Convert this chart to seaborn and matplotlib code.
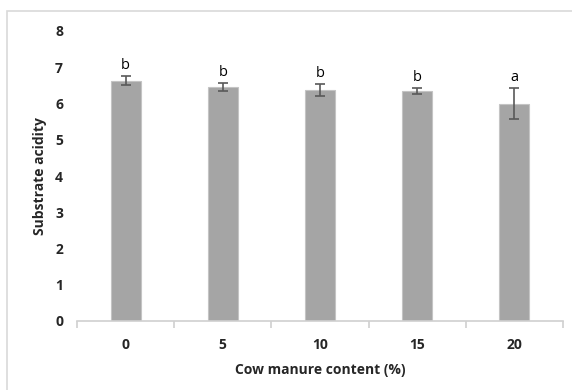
import matplotlib.pyplot as plt
import matplotlib.patches as patches
import seaborn as sns
import pandas as pd

# data
manure = ['0', '5', '10', '15', '20']
acidity = [6.63, 6.45, 6.38, 6.34, 5.99]
err = [0.12, 0.11, 0.17, 0.08, 0.43]
letters = ['b', 'b', 'b', 'b', 'a']

sns.set_theme(style='white')
plt.rcParams['font.family'] = ['Open Sans', 'DejaVu Sans']

df = pd.DataFrame({'manure': manure, 'acidity': acidity})

fig = plt.figure(figsize=(5.72, 3.9), dpi=100)
ax = fig.add_axes([77/572, 69/390, 486/572, 290/390])

sns.barplot(data=df, x='manure', y='acidity', color='#a5a5a5', saturation=1,
            width=0.31, edgecolor='#c4c4c4', linewidth=0.8, errorbar=None, ax=ax)
ax.errorbar(range(len(manure)), acidity, yerr=err, fmt='none', ecolor='#595959',
            elinewidth=1.2, capsize=3.5, capthick=1.2)
for i, (v, e, t) in enumerate(zip(acidity, err, letters)):
    ax.text(i, v + e + 0.08, t, ha='center', va='bottom', fontsize=10.5, color='black')

ax.set_ylim(0, 8)
ax.set_xlim(-0.5, 4.5)
ax.set_yticks(range(0, 9))
for s in ['top', 'right', 'left']:
    ax.spines[s].set_visible(False)
ax.spines['bottom'].set_color('#d0d0d0')
ax.spines['bottom'].set_linewidth(1.2)
ax.set_xticks([-0.5, 0.5, 1.5, 2.5, 3.5, 4.5], minor=True)
ax.tick_params(axis='x', which='minor', length=5, color='#d0d0d0', width=1.2, bottom=True)
ax.tick_params(axis='x', which='major', length=0, pad=12, labelsize=10)
ax.tick_params(axis='y', length=0, pad=10, labelsize=10)
for lab in ax.get_xticklabels() + ax.get_yticklabels():
    lab.set_fontweight('bold')

ax.set_xlabel('Cow manure content (%)', fontsize=10, fontweight='bold', labelpad=8)
ax.set_ylabel('Substrate acidity', fontsize=10, fontweight='bold', labelpad=6)

# outer chart frame like the spreadsheet export
fig.patches.append(patches.Rectangle((7/572, -0.05), 1.1, 1 - 11/390 + 0.05,
                                     transform=fig.transFigure, fill=False,
                                     edgecolor='#d9d9d9', linewidth=1.2))

plt.savefig('out.png', dpi=100)
